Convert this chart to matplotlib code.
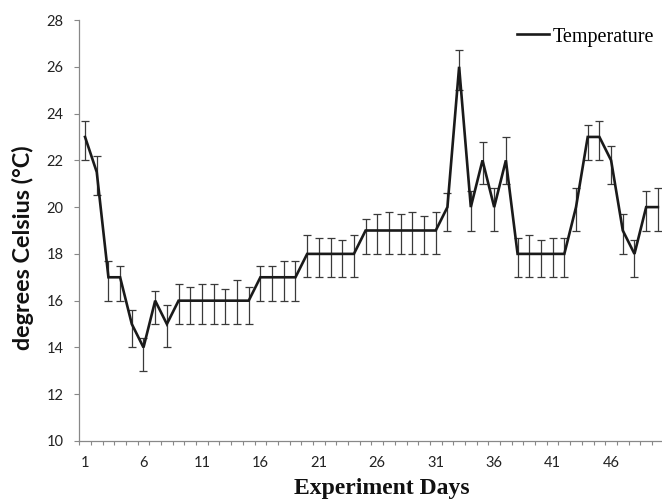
import matplotlib
matplotlib.use("Agg")
import matplotlib.pyplot as plt
from matplotlib.ticker import FixedLocator, NullFormatter

days = list(range(1, 51))
temperature = [23, 21.5, 17, 17, 15, 14, 16, 15, 16, 16,
               16, 16, 16, 16, 16, 17, 17, 17, 17, 18,
               18, 18, 18, 18, 19, 19, 19, 19, 19, 19,
               19, 20, 26, 20, 22, 20, 22, 18, 18, 18,
               18, 18, 20, 23, 23, 22, 19, 18, 20, 20]
upper = [23.7, 22.2, 17.7, 17.5, 15.6, 14.4, 16.4, 15.8, 16.7, 16.6,
         16.7, 16.7, 16.5, 16.9, 16.6, 17.5, 17.5, 17.7, 17.7, 18.8,
         18.7, 18.7, 18.6, 18.8, 19.5, 19.7, 19.8, 19.7, 19.8, 19.6,
         19.8, 20.6, 26.7, 20.7, 22.8, 20.8, 23.0, 18.7, 18.8, 18.6,
         18.7, 18.7, 20.8, 23.5, 23.7, 22.6, 19.7, 18.6, 20.7, 20.8]
lower = [v - 1 for v in temperature]
xtick_labels = [1, 6, 11, 16, 21, 26, 31, 36, 41, 46]

W, H = 662, 503
fig = plt.figure(figsize=(W / 100, H / 100), dpi=100)
ax = fig.add_axes([79.2 / W, 1 - 441 / H, (663.7 - 79.2) / W, (441 - 20) / H])

err_lo = [t - l for t, l in zip(temperature, lower)]
err_hi = [u - t for t, u in zip(temperature, upper)]
ax.errorbar(days, temperature, yerr=[err_lo, err_hi], fmt='none',
            ecolor='#3a3a3a', elinewidth=0.9, capsize=2.6, capthick=0.9, zorder=2)
line, = ax.plot(days, temperature, color='#1a1a1a', linewidth=1.9, zorder=3,
                label='Temperature', solid_joinstyle='miter')

ax.set_xlim(0.5, 50.5)
ax.set_ylim(10, 28)
ax.set_yticks(range(10, 29, 2))
ax.xaxis.set_major_locator(FixedLocator(xtick_labels))
ax.xaxis.set_minor_locator(FixedLocator([d + 0.5 for d in range(0, 51)]))
ax.xaxis.set_minor_formatter(NullFormatter())
ax.tick_params(axis='x', which='major', length=0, pad=10.5, labelsize=10.5, labelcolor='#222222')
ax.tick_params(axis='x', which='minor', length=2.6, width=0.8, color='#888888', direction='out')
ax.tick_params(axis='y', which='major', length=3.6, width=0.8, color='#888888', labelsize=10.5,
               labelcolor='#222222', pad=7.5)
for lab in ax.get_xticklabels() + ax.get_yticklabels():
    lab.set_family('Lato')

for s in ['top', 'right']:
    ax.spines[s].set_visible(False)
for s in ['left', 'bottom']:
    ax.spines[s].set_color('#888888')
    ax.spines[s].set_linewidth(0.9)
ax.spines['bottom'].set_clip_on(False)

fig.text(23 / W, 1 - 247.5 / H, 'degrees Celsius (°C)', rotation=90, ha='center', va='center',
         fontsize=16.8, fontweight='bold', family='Lato', color='#111111')
fig.text(381.7 / W, 1 - 494 / H, 'Experiment Days', ha='center', va='baseline',
         fontsize=17, fontweight='bold', family='Liberation Serif', color='#111111')

fig.legend(handles=[line], labels=['Temperature'], loc='center left',
           bbox_to_anchor=(516.7 / W, 1 - 37 / H), frameon=False,
           prop={'family': 'Liberation Serif', 'size': 14.5},
           handlelength=1.62, handletextpad=0.18, borderpad=0, borderaxespad=0)

fig.savefig('out.png', dpi=100)
